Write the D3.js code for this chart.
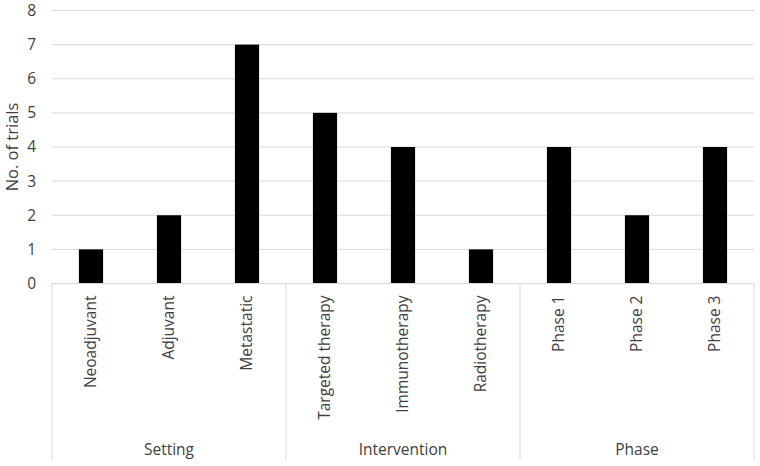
<!DOCTYPE html>
<html><head><meta charset="utf-8">
<script src="https://cdn.jsdelivr.net/npm/d3@7"></script>
<style>body{margin:0;background:#fff}svg{display:block}text{font-family:"Open Sans",sans-serif;fill:#404040}</style>
</head><body>
<svg id="c" width="760" height="466"></svg>
<script>
const categories = ["Neoadjuvant","Adjuvant","Metastatic","Targeted therapy","Immunotherapy","Radiotherapy","Phase 1","Phase 2","Phase 3"];
const groupOf = ["Setting","Setting","Setting","Intervention","Intervention","Intervention","Phase","Phase","Phase"];
const groups = ["Setting","Intervention","Phase"];
const values = [1,2,7,5,4,1,4,2,4];
const yTicks = [0,1,2,3,4,5,6,7,8];

const svg = d3.select("#c");
const L = 52, R = 754, T = 10.5, B = 283.5, axisBottom = 460;
const FS = 15.5;
const x = d3.scaleBand().domain(categories).range([L, R]).paddingInner(0.69).paddingOuter(0.345);
const xo = d3.scaleBand().domain(categories).range([L, R]);
const y = d3.scaleLinear().domain([0, 8]).range([B, T]);

// gridlines
svg.append("g").selectAll("line").data(yTicks.filter(d => d > 0)).join("line")
  .attr("x1", L).attr("x2", R).attr("y1", d => y(d)).attr("y2", d => y(d))
  .attr("stroke", "#d9d9d9").attr("stroke-width", 1);

// y tick labels
svg.append("g").selectAll("text").data(yTicks).join("text")
  .attr("x", 36).attr("y", d => y(d)).attr("dy", "0.35em").attr("text-anchor", "end")
  .attr("font-size", FS).text(d => d);

// y title
svg.append("text").attr("transform", `translate(12.5,${(T + B) / 2}) rotate(-90)`)
  .attr("text-anchor", "middle").attr("dy", "0.35em").attr("font-size", 16.5).text("No. of trials");

// bars
svg.append("g").selectAll("rect").data(values).join("rect")
  .attr("x", (d, i) => x(categories[i])).attr("width", x.bandwidth())
  .attr("y", d => y(d)).attr("height", d => B - y(d)).attr("fill", "#000");

// x axis line
svg.append("line").attr("x1", L).attr("x2", R).attr("y1", B).attr("y2", B).attr("stroke", "#d9d9d9");

// group separators
const bounds = [];
groups.forEach(g => {
  const idx = groupOf.map((v, i) => v === g ? i : -1).filter(i => i >= 0);
  const x0 = xo(categories[idx[0]]), x1 = xo(categories[idx[idx.length - 1]]) + xo.bandwidth();
  bounds.push({g, x0, x1});
});
const sepX = [bounds[0].x0, ...bounds.map(b => b.x1)];
svg.append("g").selectAll("line").data(sepX).join("line")
  .attr("x1", d => d).attr("x2", d => d).attr("y1", B).attr("y2", axisBottom)
  .attr("stroke", "#d9d9d9");

// category labels
svg.append("g").selectAll("text").data(categories).join("text")
  .attr("transform", d => `translate(${xo(d) + xo.bandwidth() / 2},${B + 12}) rotate(-90)`)
  .attr("text-anchor", "end").attr("dy", "0.35em").attr("font-size", FS).text(d => d);

// group labels
svg.append("g").selectAll("text").data(bounds).join("text")
  .attr("x", d => (d.x0 + d.x1) / 2).attr("y", 450).attr("dy", "0.35em")
  .attr("text-anchor", "middle").attr("font-size", FS).text(d => d.g);
</script>
</body></html>
